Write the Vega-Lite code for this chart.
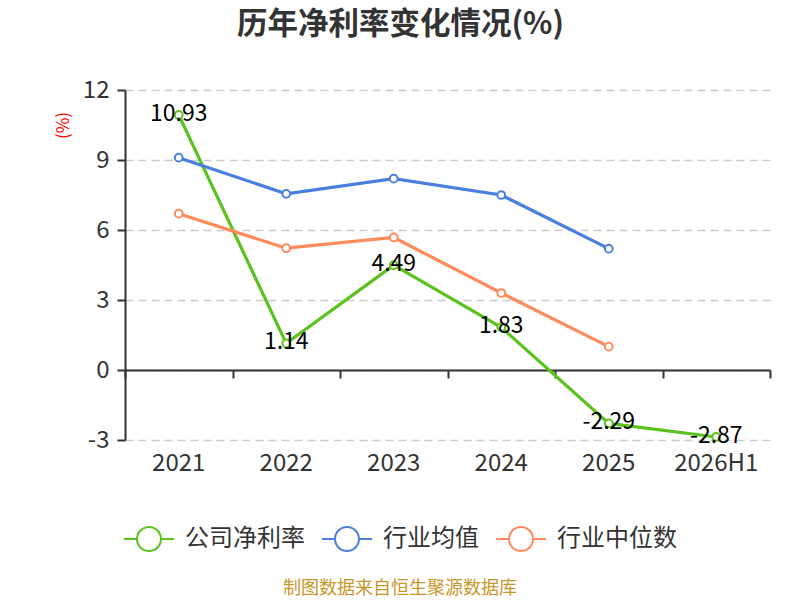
{
  "$schema": "https://vega.github.io/schema/vega-lite/v6.json",
  "autosize": "none",
  "width": 645,
  "height": 350,
  "padding": {"left": 125, "top": 90, "right": 30, "bottom": 160},
  "title": {
    "text": "历年净利率变化情况(%)",
    "font": "Noto Sans CJK SC",
    "fontSize": 30.5,
    "fontWeight": "bold",
    "color": "#333333",
    "anchor": "middle",
    "dx": -47,
    "offset": 38
  },
  "config": {
    "view": {"stroke": null},
    "font": "Noto Sans CJK SC"
  },
  "data": {
    "values": [
      {"year": "2021", "series": "公司净利率", "value": 10.93},
      {"year": "2022", "series": "公司净利率", "value": 1.14},
      {"year": "2023", "series": "公司净利率", "value": 4.49},
      {"year": "2024", "series": "公司净利率", "value": 1.83},
      {"year": "2025", "series": "公司净利率", "value": -2.29},
      {"year": "2026H1", "series": "公司净利率", "value": -2.87},
      {"year": "2021", "series": "行业均值", "value": 9.1},
      {"year": "2022", "series": "行业均值", "value": 7.55},
      {"year": "2023", "series": "行业均值", "value": 8.2},
      {"year": "2024", "series": "行业均值", "value": 7.5},
      {"year": "2025", "series": "行业均值", "value": 5.2},
      {"year": "2021", "series": "行业中位数", "value": 6.7},
      {"year": "2022", "series": "行业中位数", "value": 5.22},
      {"year": "2023", "series": "行业中位数", "value": 5.68},
      {"year": "2024", "series": "行业中位数", "value": 3.3},
      {"year": "2025", "series": "行业中位数", "value": 1.0}
    ]
  },
  "resolve": {"axis": {"x": "independent", "y": "independent"}},
  "layer": [
    {
      "mark": {
        "type": "line",
        "strokeWidth": 3.2,
        "point": {"filled": false, "fill": "white", "size": 60, "strokeWidth": 2}
      },
      "encoding": {
        "x": {
          "field": "year",
          "type": "ordinal",
          "sort": ["2021", "2022", "2023", "2024", "2025", "2026H1"],
          "bandPosition": 0.5,
          "scale": {"type": "band", "paddingInner": 0, "paddingOuter": 0},
          "axis": {
            "orient": "bottom",
            "title": null,
            "domain": false,
            "ticks": false,
            "grid": false,
            "labelAngle": 0,
            "labelFontSize": 24,
            "labelColor": "#333333",
            "labelPadding": 11
          }
        },
        "y": {
          "field": "value",
          "type": "quantitative",
          "scale": {"domain": [-3, 12], "nice": false, "zero": false},
          "axis": {
            "orient": "left",
            "values": [-3, 0, 3, 6, 9, 12],
            "labelExpr": "datum.value",
            "title": "(%)",
            "titleColor": "red",
            "titleFontSize": 17,
            "titleFontWeight": "normal",
            "titleX": -62,
            "titleY": 35,
            "titleAlign": "center",
            "titleBaseline": "middle",
            "titleAngle": 270,
            "labelFontSize": 24,
            "labelColor": "#333333",
            "labelPadding": 8,
            "domainColor": "#333333",
            "domainWidth": 2,
            "tickColor": "#333333",
            "tickWidth": 2,
            "tickSize": 8,
            "grid": true,
            "gridColor": "#cccccc",
            "gridDash": [8, 5],
            "gridWidth": 1.5
          }
        },
        "color": {
          "field": "series",
          "type": "nominal",
          "scale": {
            "domain": ["公司净利率", "行业均值", "行业中位数"],
            "range": ["#5bc21e", "#4a7fe0", "#ff8a5b"]
          },
          "legend": {
            "orient": "none",
            "direction": "horizontal",
            "legendX": -2,
            "legendY": 423,
            "padding": 0,
            "title": "制图数据来自恒生聚源数据库",
            "titleOrient": "bottom",
            "titleAnchor": "middle",
            "titleLimit": 1000,
            "titleColor": "#c8962a",
            "titleFontSize": 18,
            "titleFontWeight": "normal",
            "titlePadding": 25,
            "symbolType": "M-1,0L-0.48,0M0.48,0L1,0M-0.48,0A0.48,0.48,0,1,1,0.48,0A0.48,0.48,0,1,1,-0.48,0",
            "symbolSize": 2500,
            "symbolStrokeWidth": 2,
            "symbolFillColor": "transparent",
            "labelFontSize": 24,
            "labelColor": "#333333",
            "labelOffset": 10,
            "columnPadding": 13
          }
        }
      }
    },
    {
      "transform": [{"filter": "datum.series === '公司净利率'"}],
      "mark": {"type": "text", "fontSize": 23, "color": "black", "baseline": "middle", "dy": -1},
      "encoding": {
        "x": {
          "field": "year",
          "type": "ordinal",
          "sort": ["2021", "2022", "2023", "2024", "2025", "2026H1"],
          "bandPosition": 0.5,
          "axis": {
            "orient": "bottom",
            "title": null,
            "offset": -70,
            "labels": false,
            "grid": false,
            "ticks": true,
            "tickBand": "extent",
            "tickSize": 8,
            "tickColor": "#333333",
            "tickWidth": 2,
            "domainColor": "#333333",
            "domainWidth": 2,
            "zindex": 0
          }
        },
        "y": {"field": "value", "type": "quantitative", "axis": null},
        "text": {"field": "value", "type": "nominal"}
      }
    }
  ]
}
